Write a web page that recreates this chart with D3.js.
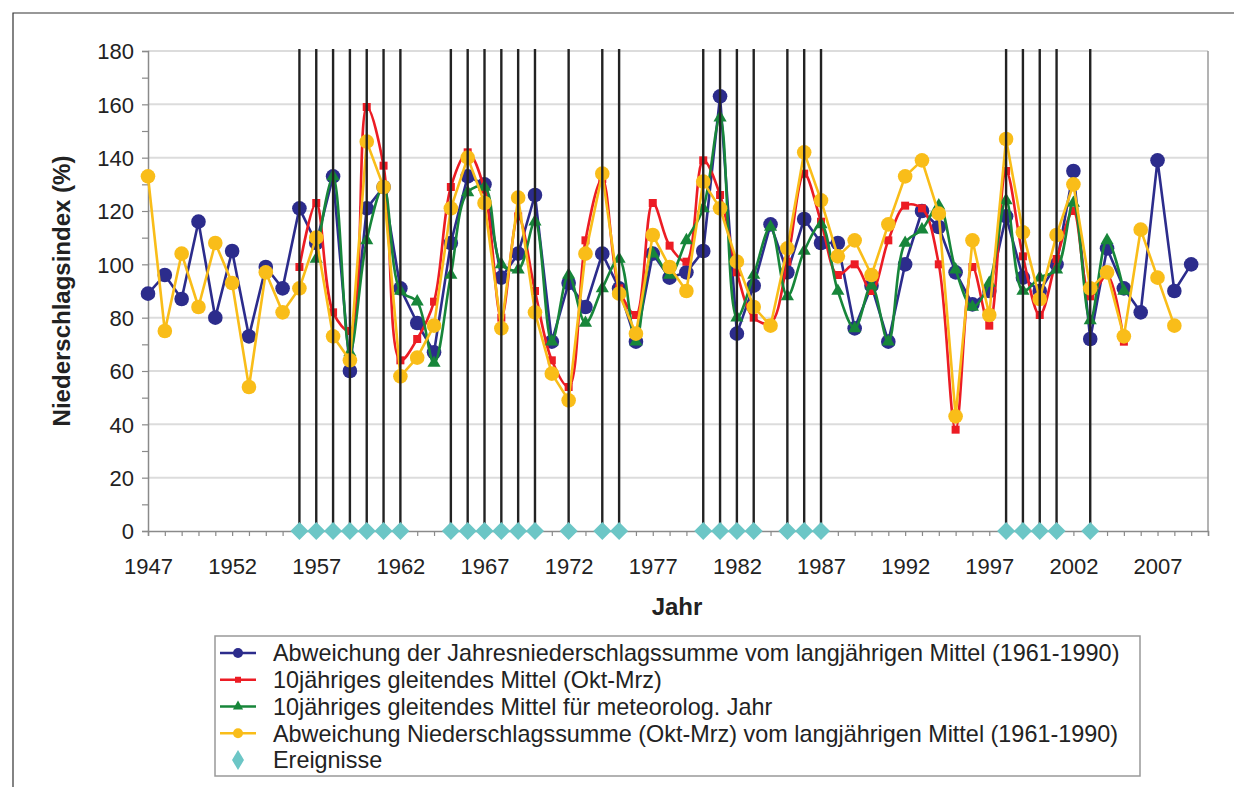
<!DOCTYPE html>
<html lang="de">

<head>
  <meta charset="UTF-8" />
  <script src="https://d3js.org/d3.v7.min.js"></script>
  <title>Niederschlagsindex</title>
  <style>
    body { margin: 0; background: #fff; }
    text { font-family: "Liberation Sans", Arial, sans-serif; fill: #222; }
  </style>
</head>

<body>
  <svg width="1246" height="787"></svg>

  <script>
    // Data
    const yearsBlue = d3.range(1947, 2010);
    const blueValues = [89, 96, 87, 116, 80, 105, 73, 99, 91, 121, 108, 133, 60, 121, 129, 91, 78, 67, 108, 133,
      130, 95, 104, 126, 71, 93, 84, 104, 91, 71, 104, 95, 97, 105, 163, 74, 92, 115, 97, 117, 108, 108, 76, 92,
      71, 100, 120, 114, 97, 85, 90, 118, 95, 90, 100, 135, 72, 106, 91, 82, 139, 90, 100];

    const yearsYellow = d3.range(1947, 2009);
    const yellowValues = [133, 75, 104, 84, 108, 93, 54, 97, 82, 91, 110, 73, 64, 146, 129, 58, 65, 77, 121, 140,
      123, 76, 125, 82, 59, 49, 104, 134, 89, 74, 111, 99, 90, 131, 121, 101, 84, 77, 106, 142, 124, 103, 109, 96,
      115, 133, 139, 119, 43, 109, 81, 147, 112, 87, 111, 130, 91, 97, 73, 113, 95, 77];

    const yearsRed = d3.range(1956, 2006);
    const redValues = [99, 123, 82, 75, 159, 137, 64, 72, 86, 129, 142, 128, 80, 118, 90, 64, 54, 109, 132, 91,
      81, 123, 107, 101, 139, 126, 97, 80, 78, 101, 134, 116, 96, 100, 90, 109, 122, 121, 100, 38, 99, 77, 135,
      103, 81, 102, 120, 88, 96, 71];

    const yearsGreen = d3.range(1957, 2006);
    const greenValues = [102, 133, 67, 109, 129, 90, 86, 63, 96, 127, 129, 100, 98, 116, 71, 96, 78, 91, 102, 71,
      104, 96, 109, 121, 155, 80, 96, 114, 88, 105, 115, 90, 76, 92, 71, 108, 113, 122, 98, 84, 93, 124, 90, 95,
      98, 123, 79, 109, 90];

    const eventYears = [1956, 1957, 1958, 1959, 1960, 1961, 1962, 1965, 1966, 1967, 1968, 1969, 1970, 1972, 1974,
      1975, 1980, 1981, 1982, 1983, 1985, 1986, 1987, 1998, 1999, 2000, 2001, 2003];

    const xTickYears = d3.range(1947, 2010, 5);
    const yTicks = d3.range(0, 181, 20);

    const legendLabels = [
      "Abweichung der Jahresniederschlagssumme vom langjährigen Mittel (1961-1990)",
      "10jähriges gleitendes Mittel (Okt-Mrz)",
      "10jähriges gleitendes Mittel für meteorolog. Jahr",
      "Abweichung Niederschlagssumme (Okt-Mrz) vom langjährigen Mittel (1961-1990)",
      "Ereignisse"
    ];

    const colors = { blue: "#2c2c8c", red: "#ec1c24", green: "#17863a", yellow: "#f9bd19", cyan: "#6cc6c6" };

    const svg = d3.select("svg");

    // outer frame (top and left)
    svg.append("path")
      .attr("d", "M13,800 V13 H1234")
      .attr("fill", "none")
      .attr("stroke", "#333")
      .attr("stroke-width", 1.2);

    // Scales
    const x = d3.scaleLinear().domain([1947, 2010]).range([148, 1208]);
    const y = d3.scaleLinear().domain([0, 180]).range([531, 51]);

    // Gridlines
    svg.append("g")
      .selectAll("line")
      .data(yTicks.slice(1))
      .join("line")
      .attr("x1", x(1947)).attr("x2", x(2010))
      .attr("y1", d => y(d)).attr("y2", d => y(d))
      .attr("stroke", "#dcdcdc")
      .attr("stroke-width", 2);

    // plot frame right side
    svg.append("line")
      .attr("x1", x(2010)).attr("x2", x(2010))
      .attr("y1", y(180)).attr("y2", y(0))
      .attr("stroke", "#9a9a9a").attr("stroke-width", 1.5);

    // Axes
    const yAxis = svg.append("g")
      .attr("transform", `translate(${x(1947)},0)`)
      .call(d3.axisLeft(y).tickValues(d3.range(0, 181, 10)).tickSize(6)
        .tickFormat(d => d % 20 === 0 ? d : ""));
    yAxis.select(".domain").attr("stroke", "#8a8a8a").attr("stroke-width", 1.5);
    yAxis.selectAll(".tick line").attr("stroke", "#8a8a8a").attr("stroke-width", 1.2);
    yAxis.selectAll(".tick text").attr("font-size", 22).attr("x", -14).attr("dy", "0.36em")
      .style("font-family", "'Liberation Sans', Arial, sans-serif").attr("fill", "#222");

    const xAxis = svg.append("g")
      .attr("transform", `translate(0,${y(0)})`)
      .call(d3.axisBottom(x).tickValues(d3.range(1947, 2011)).tickSize(5)
        .tickFormat(d => xTickYears.includes(d) ? d : ""));
    xAxis.select(".domain").attr("stroke", "#8a8a8a").attr("stroke-width", 1.5);
    xAxis.selectAll(".tick line").attr("stroke", "#8a8a8a").attr("stroke-width", 1.2);
    xAxis.selectAll(".tick text").attr("font-size", 22).attr("y", 27)
      .style("font-family", "'Liberation Sans', Arial, sans-serif").attr("fill", "#222");

    // Axis titles
    svg.append("text")
      .attr("transform", `translate(70,291) rotate(-90)`)
      .attr("text-anchor", "middle")
      .attr("font-size", 24)
      .attr("font-weight", "bold")
      .text("Niederschlagsindex (%)");

    svg.append("text")
      .attr("x", 677).attr("y", 615)
      .attr("text-anchor", "middle")
      .attr("font-size", 24)
      .attr("font-weight", "bold")
      .text("Jahr");

    // Series
    const straight = d3.line().x(d => x(d[0])).y(d => y(d[1]));
    const smooth = d3.line().x(d => x(d[0])).y(d => y(d[1])).curve(d3.curveCatmullRom.alpha(0.5));

    const blue = d3.zip(yearsBlue, blueValues);
    const red = d3.zip(yearsRed, redValues);
    const green = d3.zip(yearsGreen, greenValues);
    const yellow = d3.zip(yearsYellow, yellowValues);

    const plot = svg.append("g");

    function drawLine(data, gen, color) {
      plot.append("path")
        .datum(data)
        .attr("d", gen)
        .attr("fill", "none")
        .attr("stroke", color)
        .attr("stroke-width", 2.6)
        .attr("stroke-linejoin", "round");
    }

    // blue
    drawLine(blue, straight, colors.blue);
    plot.append("g").selectAll("circle").data(blue).join("circle")
      .attr("cx", d => x(d[0])).attr("cy", d => y(d[1])).attr("r", 7.3)
      .attr("fill", colors.blue);

    // red
    drawLine(red, smooth, colors.red);
    plot.append("g").selectAll("rect").data(red).join("rect")
      .attr("x", d => x(d[0]) - 4).attr("y", d => y(d[1]) - 4)
      .attr("width", 8).attr("height", 8)
      .attr("fill", colors.red);

    // green
    drawLine(green, smooth, colors.green);
    plot.append("g").selectAll("path").data(green).join("path")
      .attr("transform", d => `translate(${x(d[0])},${y(d[1])})`)
      .attr("d", d3.symbol(d3.symbolTriangle, 75))
      .attr("fill", colors.green);

    // yellow
    drawLine(yellow, straight, colors.yellow);
    plot.append("g").selectAll("circle").data(yellow).join("circle")
      .attr("cx", d => x(d[0])).attr("cy", d => y(d[1])).attr("r", 7.3)
      .attr("fill", colors.yellow);

    // Events: vertical lines + diamonds
    plot.append("g").selectAll("line").data(eventYears).join("line")
      .attr("x1", d => x(d)).attr("x2", d => x(d))
      .attr("y1", y(0)).attr("y2", y(180) - 2)
      .attr("stroke", "#222")
      .attr("stroke-width", 2.4);

    plot.append("g").selectAll("path").data(eventYears).join("path")
      .attr("transform", d => `translate(${x(d)},${y(0)})`)
      .attr("d", "M0,-9 L9,0 L0,9 L-9,0 Z")
      .attr("fill", colors.cyan);

    // Legend
    const legend = svg.append("g");
    legend.append("rect")
      .attr("x", 215).attr("y", 636)
      .attr("width", 925).attr("height", 140)
      .attr("fill", "#fff")
      .attr("stroke", "#999")
      .attr("stroke-width", 1.5);

    const legendColors = [colors.blue, colors.red, colors.green, colors.yellow, colors.cyan];
    const rowY = d3.scalePoint().domain(d3.range(5)).range([653, 760]);

    legendLabels.forEach((label, i) => {
      const cy = rowY(i);
      const g = legend.append("g");
      if (i < 4) {
        g.append("line")
          .attr("x1", 220).attr("x2", 256)
          .attr("y1", cy).attr("y2", cy)
          .attr("stroke", legendColors[i]).attr("stroke-width", 2.6);
      }
      if (i === 0 || i === 3) {
        g.append("circle").attr("cx", 238).attr("cy", cy).attr("r", 5).attr("fill", legendColors[i]);
      } else if (i === 1) {
        g.append("rect").attr("x", 235).attr("y", cy - 3).attr("width", 6).attr("height", 6).attr("fill", legendColors[i]);
      } else if (i === 2) {
        g.append("path").attr("transform", `translate(238,${cy})`)
          .attr("d", d3.symbol(d3.symbolTriangle, 45)).attr("fill", legendColors[i]);
      } else {
        g.append("path").attr("transform", `translate(238,${cy})`)
          .attr("d", "M0,-10 L6,0 L0,10 L-6,0 Z").attr("fill", legendColors[i]);
      }
      g.append("text")
        .attr("x", 273).attr("y", cy)
        .attr("dy", "0.36em")
        .attr("font-size", 23.4)
        .text(label);
    });
  </script>
</body>

</html>
